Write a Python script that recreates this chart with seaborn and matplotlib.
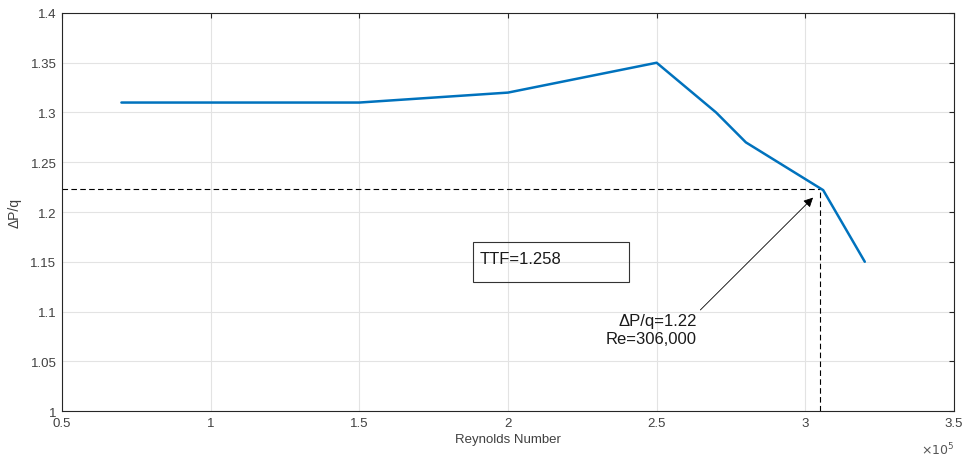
import numpy as np
import pandas as pd
import matplotlib
matplotlib.use("Agg")
import matplotlib.pyplot as plt
import seaborn as sns
from matplotlib.patches import Rectangle
from matplotlib.ticker import FuncFormatter

# data
reynolds = [70000, 150000, 200000, 250000, 270000, 280000, 306000, 320000]
dp_q = [1.31, 1.31, 1.32, 1.35, 1.30, 1.27, 1.222, 1.15]

# marked operating point
mark_re = 305000
mark_dp = 1.2235

x_ticks = [50000, 100000, 150000, 200000, 250000, 300000, 350000]
y_ticks = [1.0, 1.05, 1.1, 1.15, 1.2, 1.25, 1.3, 1.35, 1.4]

LINE_COLOR = "#0072BD"
AX_COLOR = "#262626"

sns.set_style("whitegrid")
plt.rcParams["font.family"] = ["Liberation Sans", "DejaVu Sans"]

df = pd.DataFrame({"Re": reynolds, "dPq": dp_q})

fig = plt.figure(figsize=(9.65, 4.6), dpi=100)
ax = fig.add_axes([0.0642, 0.1043, 0.9244, 0.8653])

sns.lineplot(data=df, x="Re", y="dPq", ax=ax, color=LINE_COLOR,
             linewidth=1.8, sort=False, estimator=None, zorder=3)

# dashed guide lines
ax.plot([x_ticks[0], mark_re], [mark_dp, mark_dp], color="black",
        linestyle=(0, (5, 3)), linewidth=0.8, zorder=2)
ax.plot([mark_re, mark_re], [y_ticks[0], mark_dp], color="black",
        linestyle=(0, (5, 3)), linewidth=0.8, zorder=2)

ax.set_xlim(x_ticks[0], x_ticks[-1])
ax.set_ylim(y_ticks[0], y_ticks[-1])
ax.set_xticks(x_ticks)
ax.set_yticks(y_ticks)
ax.xaxis.set_major_formatter(FuncFormatter(lambda v, p: f"{v / 1e5:g}"))
ax.yaxis.set_major_formatter(FuncFormatter(lambda v, p: f"{v:g}"))

ax.grid(True, color="#e3e3e3", linewidth=0.8)
for s in ax.spines.values():
    s.set_color(AX_COLOR)
    s.set_linewidth(0.8)
ax.tick_params(direction="in", length=3.5, width=0.8, colors=AX_COLOR,
               labelsize=9.5, top=True, right=True, pad=4)
for lbl in ax.get_xticklabels() + ax.get_yticklabels():
    lbl.set_color("#404040")

ax.set_xlabel("Reynolds Number", fontsize=9.5, color="#404040", labelpad=3)
ax.set_ylabel("ΔP/q", fontsize=10, color="#404040", labelpad=6)

# exponent label
ax.text(1.0, -0.075, r"$\times10^{5}$", transform=ax.transAxes,
        ha="right", va="top", fontsize=9, color="#555555")

# TTF textbox
ax.add_patch(Rectangle((188200, 1.1297), 52500, 0.0402, fill=False,
                       edgecolor="#333333", linewidth=0.8, zorder=4))
ax.text(190300, 1.1535, "TTF=1.258", fontsize=12, color="#1a1a1a",
        ha="left", va="center", zorder=5)

# arrow annotation
ax.annotate("ΔP/q=1.22\nRe=306,000", xy=(302600, 1.2145),
            xytext=(263600, 1.082), fontsize=12, ha="right", va="center",
            multialignment="right", color="#1a1a1a", zorder=5,
            arrowprops=dict(arrowstyle="-|>", color="black", lw=0.6,
                            mutation_scale=14, shrinkA=0, shrinkB=0,
                            relpos=(1.0, 1.0)))

fig.savefig("out.png", dpi=100)
